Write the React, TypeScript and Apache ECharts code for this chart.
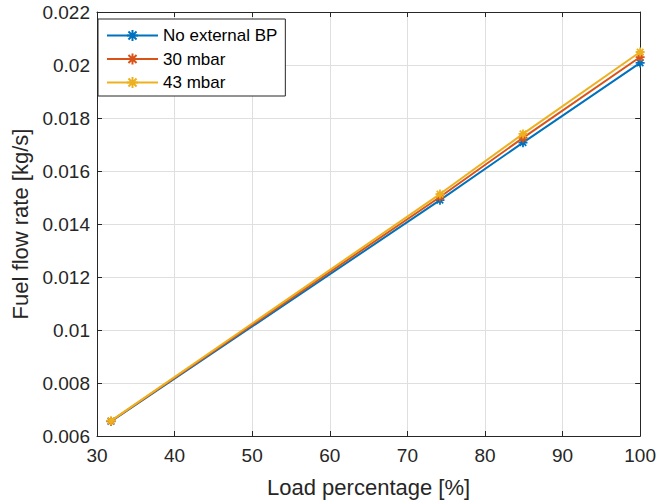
import React, { useEffect, useRef } from "react";
import * as echarts from "echarts";

const loads = [31.8, 74.2, 84.9, 100];
const noBP = [0.00655, 0.0149, 0.01707, 0.02008];
const bp30 = [0.00656, 0.01502, 0.01725, 0.0203];
const bp43 = [0.00657, 0.01513, 0.0174, 0.02049];
const seriesNames = ["No external BP", "30 mbar", "43 mbar"];
const colors = ["#0072BD", "#D95319", "#EDB120"];

const star = "path://M0,-5L0,5M-5,0L5,0M-3.6,-3.6L3.6,3.6M-3.6,3.6L3.6,-3.6";

export default function App() {
  const ref = useRef<HTMLDivElement>(null);
  useEffect(() => {
    const chart = echarts.init(ref.current!, null, { renderer: "svg" });
    const font = "Liberation Sans, Arial, Helvetica, sans-serif";
    const dataSets = [noBP, bp30, bp43];
    const axisCommon = {
      axisLine: { show: true, lineStyle: { color: "#262626", width: 1 } },
      axisTick: { show: true, inside: true, length: 5, lineStyle: { color: "#262626" } },
    };
    chart.setOption({
      animation: false,
      backgroundColor: "#fff",
      grid: { left: 97, right: 18, top: 12, bottom: 68, show: false },
      legend: {
        orient: "vertical",
        left: 98,
        top: 19,
        padding: [8, 8, 5, 8],
        itemWidth: 51,
        itemHeight: 14,
        itemGap: 6.5,
        borderColor: "#262626",
        borderWidth: 1,
        backgroundColor: "#fff",
        textStyle: { fontFamily: font, fontSize: 17, color: "#000", lineHeight: 17 },
        data: seriesNames,
      },
      xAxis: [
        {
          type: "value",
          min: 30,
          max: 100,
          interval: 10,
          ...axisCommon,
          axisLabel: { fontFamily: font, fontSize: 19, color: "#262626", margin: 10 },
          splitLine: { show: true, lineStyle: { color: "#dfdfdf" } },
          name: "Load percentage [%]",
          nameLocation: "middle",
          nameGap: 40,
          nameTextStyle: { fontFamily: font, fontSize: 22, color: "#262626" },
        },
        {
          type: "value",
          position: "top",
          min: 30,
          max: 100,
          interval: 10,
          ...axisCommon,
          axisLabel: { show: false },
          splitLine: { show: false },
        },
      ],
      yAxis: [
        {
          type: "value",
          min: 0.006,
          max: 0.022,
          interval: 0.002,
          ...axisCommon,
          axisLabel: {
            fontFamily: font,
            fontSize: 19,
            color: "#262626",
            margin: 7,
            formatter: (v: number) => String(parseFloat(v.toFixed(4))),
          },
          splitLine: { show: true, lineStyle: { color: "#dfdfdf" } },
          name: "Fuel flow rate [kg/s]",
          nameLocation: "middle",
          nameGap: 64,
          nameTextStyle: { fontFamily: font, fontSize: 22, color: "#262626" },
        },
        {
          type: "value",
          position: "right",
          min: 0.006,
          max: 0.022,
          interval: 0.002,
          ...axisCommon,
          axisLabel: { show: false },
          splitLine: { show: false },
        },
      ],
      series: seriesNames.map((name, i) => ({
        name,
        type: "line",
        xAxisIndex: 0,
        yAxisIndex: 0,
        data: loads.map((x, j) => [x, dataSets[i][j]]),
        symbol: star,
        symbolSize: 9,
        showAllSymbol: true,
        lineStyle: { color: colors[i], width: 2 },
        itemStyle: { color: colors[i], borderColor: colors[i], borderWidth: 1.8 },
        z: 2 + i,
      })),
    });
    return () => chart.dispose();
  }, []);
  return <div ref={ref} style={{ width: 659, height: 504, position: "absolute", left: 0, top: 0 }} />;
}
